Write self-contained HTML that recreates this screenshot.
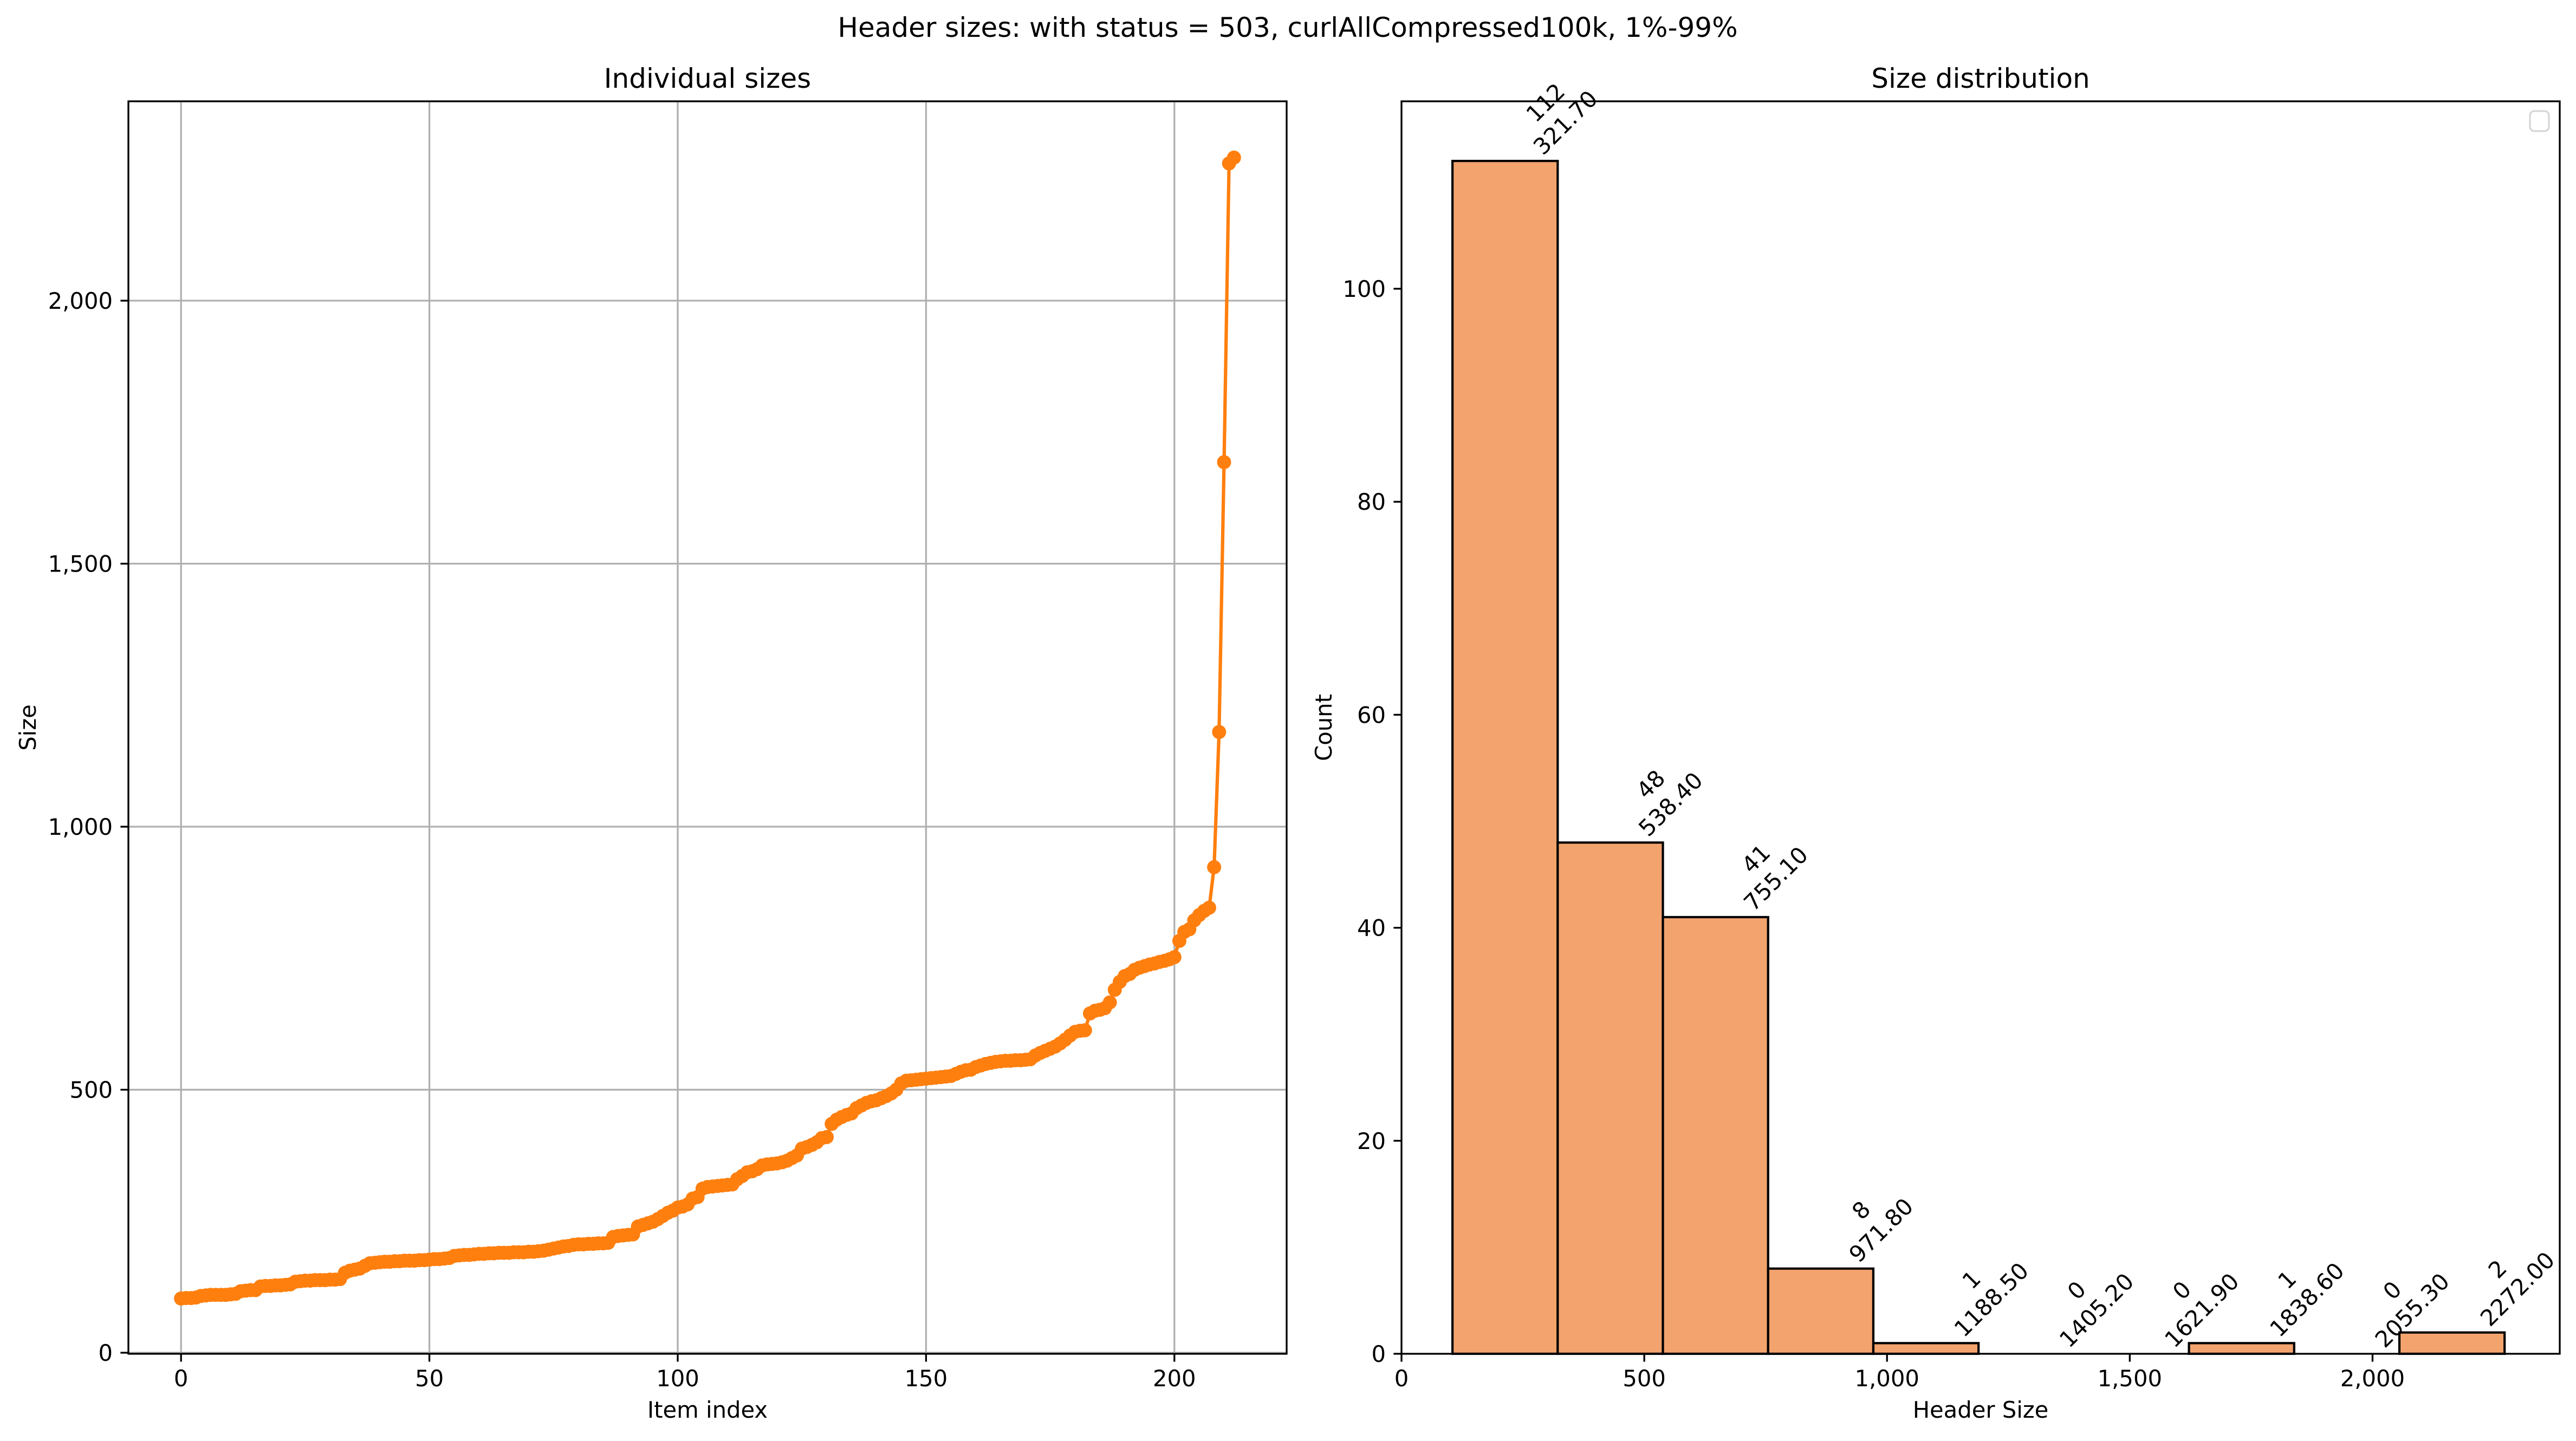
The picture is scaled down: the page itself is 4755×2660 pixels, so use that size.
<!DOCTYPE html>
<html><head><meta charset="utf-8"><style>
html,body{margin:0;padding:0;background:#fff;}
svg{display:block;font-family:"DejaVu Sans","Liberation Sans",sans-serif;}
</style></head><body>
<svg id="fig" width="4755" height="2660" viewBox="0 0 4755 2660" xmlns="http://www.w3.org/2000/svg">
<rect width="4755" height="2660" fill="#fff"/>
<text x="2377" y="68" font-size="50" text-anchor="middle">Header sizes: with status = 503, curlAllCompressed100k, 1%-99%</text>
<g id="left"></g>
<g id="right"></g>
</svg>
<script>
const sizes = [103,104,104,105,
108,109,110,110,110,110,111,112,
117,118,119,119,
126,127,127,128,128,129,130,
135,136,137,137,138,138,138,139,139,140,
152,156,158,160,165,
170,171,172,173,173,174,174,175,175,175,176,176,177,178,178,179,180,
184,185,186,186,187,188,188,189,189,190,190,190,191,191,191,192,192,193,194,
196,198,200,202,203,205,206,206,207,207,208,208,209,
220,222,223,224,225,
240,243,246,249,254,260,266,270,
276,278,282,293,296,
312,315,316,317,318,319,
320,330,336,343,345,349,
356,358,359,360,362,365,370,375,
388,391,395,400,408,410,
435,443,448,452,455,
465,470,475,478,480,484,488,493,500,
512,517,518,519,520,521,522,523,524,525,526,
530,534,537,538,543,546,549,551,553,554,555,555,556,556,557,558,
565,570,574,578,582,588,595,603,610,612,613,
645,650,652,655,666,
690,705,716,
720,728,732,735,738,740,743,745,748,752,
783,800,805,822,832,840,846,
923,1180,1693,2261,2272];
const leftXTicks = [0,50,100,150,200];
const leftYTicks = [0,500,1000,1500,2000];
const leftYTickLabels = ["0","500","1,000","1,500","2,000"];
const binEdges = [105,321.7,538.4,755.1,971.8,1188.5,1405.2,1621.9,1838.6,2055.3,2272];
const binCounts = [112,48,41,8,1,0,0,1,0,2];
const binEdgeLabels = ["321.70","538.40","755.10","971.80","1188.50","1405.20","1621.90","1838.60","2055.30","2272.00"];
const rightXTicks = [0,500,1000,1500,2000];
const rightXTickLabels = ["0","500","1,000","1,500","2,000"];
const rightYTicks = [0,20,40,60,80,100];

const NS = "http://www.w3.org/2000/svg";
function mk(parent, tag, attrs, text){
  const e = document.createElementNS(NS, tag);
  for (const k in attrs) e.setAttribute(k, attrs[k]);
  if (text !== undefined) e.textContent = text;
  parent.appendChild(e);
  return e;
}
const FS = 41.7;
// ---------- Left chart ----------
const L = document.getElementById('left');
const lx0=237, lx1=2375, ly0=187, ly1=2499;
const lxmin=-10.6, lxmax=222.6;
const lymin=-2, lymax=2379;
function lx(v){return lx0+(v-lxmin)/(lxmax-lxmin)*(lx1-lx0);}
function ly(v){return ly1-(v-lymin)/(lymax-lymin)*(ly1-ly0);}
leftXTicks.forEach(t=>{
  const g = mk(L,'line',{x1:lx(t),x2:lx(t),y1:ly0,y2:ly1,stroke:'#b0b0b0','stroke-width':3.3});
  
  
  const tk = mk(L,'line',{x1:lx(t),x2:lx(t),y1:ly1,y2:ly1+14.6,stroke:'#000','stroke-width':3.3});
  
  
  const lb = mk(L,'text',{x:lx(t),y:ly1+60,'font-size':FS,'text-anchor':'middle'},String(t));
  
  
});
leftYTicks.forEach((t,i)=>{
  const g = mk(L,'line',{x1:lx0,x2:lx1,y1:ly(t),y2:ly(t),stroke:'#b0b0b0','stroke-width':3.3});
  
  
  const tk = mk(L,'line',{x1:lx0-14.6,x2:lx0,y1:ly(t),y2:ly(t),stroke:'#000','stroke-width':3.3});
  
  
  const lb = mk(L,'text',{x:lx0-29,y:ly(t)+15,'font-size':FS,'text-anchor':'end'},leftYTickLabels[i]);
  
  
});
const pts = sizes.map((v,i)=>lx(i).toFixed(1)+','+ly(v).toFixed(1)).join(' ');
const line = mk(L,'polyline',{points:pts,fill:'none',stroke:'#ff7f0e','stroke-width':6.25,'stroke-linejoin':'round'});


sizes.forEach((v,i)=>{
  const c = mk(L,'circle',{cx:lx(i),cy:ly(v),r:13,fill:'#ff7f0e'});
  
  
});
const lframe = mk(L,'rect',{x:lx0,y:ly0,width:lx1-lx0,height:ly1-ly0,fill:'none',stroke:'#000','stroke-width':3.3});


const lt = mk(L,'text',{x:(lx0+lx1)/2,y:ly0-25,'font-size':50,'text-anchor':'middle'},'Individual sizes');


const lxl = mk(L,'text',{x:(lx0+lx1)/2,y:2617,'font-size':FS,'text-anchor':'middle'},'Item index');


const lyl = mk(L,'text',{x:0,y:0,'font-size':FS,'text-anchor':'middle',transform:'translate(66,'+((ly0+ly1)/2)+') rotate(-90)'},'Size');



// ---------- Right chart ----------
const R = document.getElementById('right');
const rx0=2587, rx1=4725, ry0=187, ry1=2499;
const rxmin=0, rxmax=2385.6, rymin=0, rymax=117.6;
function rx(v){return rx0+(v-rxmin)/(rxmax-rxmin)*(rx1-rx0);}
function ry(v){return ry1-(v-rymin)/(rymax-rymin)*(ry1-ry0);}
binCounts.forEach((c,i)=>{
  if (c>0){
    const b = mk(R,'rect',{x:rx(binEdges[i]),y:ry(c),width:rx(binEdges[i+1])-rx(binEdges[i]),height:ry(0)-ry(c),fill:'#f2a36e',stroke:'#000','stroke-width':4.2});
    
    
  }
});
binCounts.forEach((c,i)=>{
  const g = mk(R,'g',{transform:'translate('+(rx(binEdges[i+1])-27)+','+(ry(c)-9)+') rotate(-45)'});
  
  
  const t2 = mk(g,'text',{x:0,y:0,'font-size':FS},binEdgeLabels[i]);
  const w = t2.getComputedTextLength ? t2.getComputedTextLength() : 150;
  mk(g,'text',{x:w/2,y:-52,'font-size':FS,'text-anchor':'middle'},String(c));
});
rightXTicks.forEach((t,i)=>{
  const tk = mk(R,'line',{x1:rx(t),x2:rx(t),y1:ry1,y2:ry1+14.6,stroke:'#000','stroke-width':3.3});
  
  
  const lb = mk(R,'text',{x:rx(t),y:ry1+60,'font-size':FS,'text-anchor':'middle'},rightXTickLabels[i]);
  
  
});
rightYTicks.forEach(t=>{
  const tk = mk(R,'line',{x1:rx0-14.6,x2:rx0,y1:ry(t),y2:ry(t),stroke:'#000','stroke-width':3.3});
  
  
  const lb = mk(R,'text',{x:rx0-29,y:ry(t)+15,'font-size':FS,'text-anchor':'end'},String(t));
  
  
});
const rframe = mk(R,'rect',{x:rx0,y:ry0,width:rx1-rx0,height:ry1-ry0,fill:'none',stroke:'#000','stroke-width':3.3});


const leg = mk(R,'rect',{x:4670,y:205,width:35,height:37,rx:8,fill:'#fff',stroke:'#d6d6d6','stroke-width':3.3});


const rt = mk(R,'text',{x:(rx0+rx1)/2,y:ry0-25,'font-size':50,'text-anchor':'middle'},'Size distribution');


const rxl = mk(R,'text',{x:(rx0+rx1)/2,y:2617,'font-size':FS,'text-anchor':'middle'},'Header Size');


const ryl = mk(R,'text',{x:0,y:0,'font-size':FS,'text-anchor':'middle',transform:'translate(2458,'+((ry0+ry1)/2)+') rotate(-90)'},'Count');


</script>
</body></html>
